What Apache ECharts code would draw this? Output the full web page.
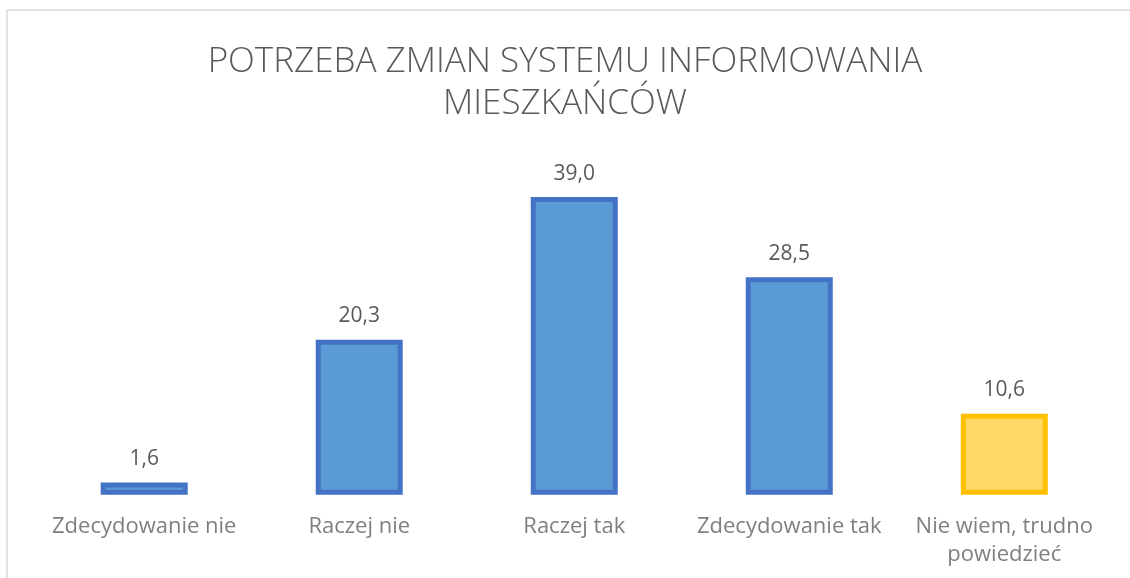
<!DOCTYPE html>
<html>
<head>
<meta charset="utf-8">
<script src="https://cdn.jsdelivr.net/npm/echarts@6/dist/echarts.min.js"></script>
<style>
html,body{margin:0;padding:0;background:#fff;}
#chart{width:1130px;height:578px;}
</style>
</head>
<body>
<div id="chart"></div>
<script>
const titleText = 'POTRZEBA ZMIAN SYSTEMU INFORMOWANIA\nMIESZKAŃCÓW';
const categories = ['Zdecydowanie nie', 'Raczej nie', 'Raczej tak', 'Zdecydowanie tak', 'Nie wiem, trudno\npowiedzieć'];
const values = [1.6, 20.3, 39.0, 28.5, 10.6];
const highlightIndex = 4;

const chart = echarts.init(document.getElementById('chart'), null, {renderer: 'canvas'});
const fontFamily = '"Open Sans", sans-serif';

chart.setOption({
  animation: false,
  backgroundColor: '#ffffff',
  title: {
    text: titleText,
    left: 'center',
    top: 36,
    textStyle: {
      fontFamily: fontFamily,
      fontWeight: 300,
      fontSize: 35,
      lineHeight: 42,
      color: '#595959'
    }
  },
  graphic: [{
    type: 'rect',
    shape: {x: 7, y: 10, width: 1140, height: 600},
    style: {fill: 'none', stroke: '#d9d9d9', lineWidth: 1.5},
    silent: true
  }],
  grid: {left: 36.7, right: 18.2, top: 151.3, bottom: 83.3, containLabel: false},
  xAxis: {
    type: 'category',
    data: categories,
    axisLine: {show: false},
    axisTick: {show: false},
    axisLabel: {
      fontFamily: fontFamily,
      fontSize: 22,
      lineHeight: 28,
      color: '#7f7f7f',
      margin: 18,
      interval: 0
    }
  },
  yAxis: {
    type: 'value',
    min: 0,
    max: 45,
    show: false,
    splitLine: {show: false}
  },
  series: [{
    type: 'bar',
    barWidth: 87,
    data: values.map((v, i) => ({
      value: v,
      itemStyle: i === highlightIndex
        ? {color: '#FFD966', borderColor: '#FFC000', borderWidth: 5}
        : {color: '#5B9BD5', borderColor: '#4472C4', borderWidth: 5}
    })),
    label: {
      show: true,
      position: 'top',
      distance: 13,
      fontFamily: fontFamily,
      fontSize: 21,
      color: '#595959',
      formatter: p => p.value.toFixed(1).replace('.', ',')
    }
  }]
});
</script>
</body>
</html>
